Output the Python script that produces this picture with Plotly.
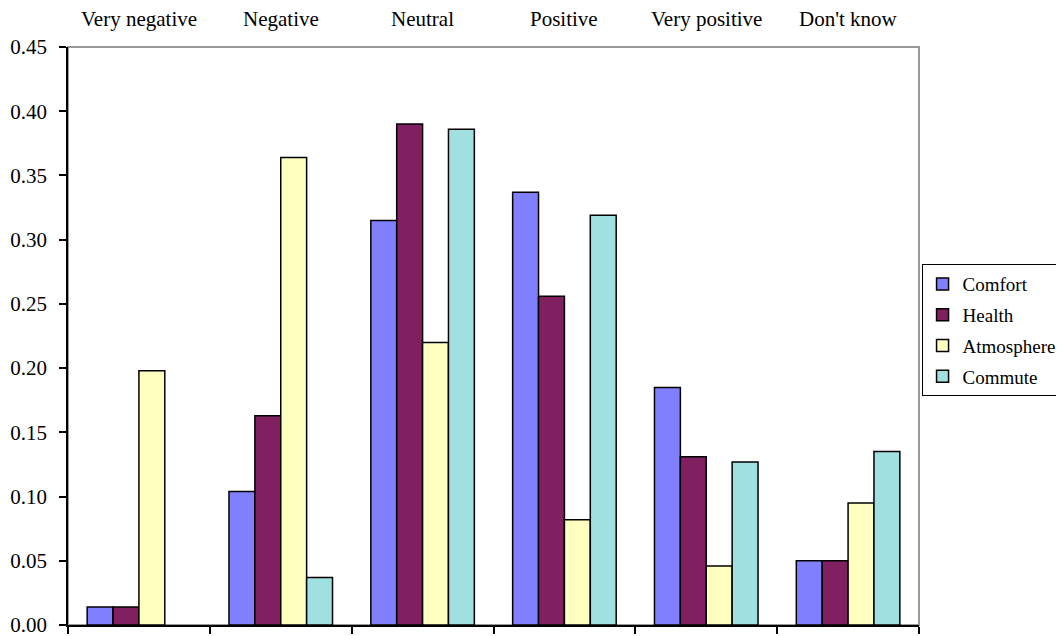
import plotly.graph_objects as go

categories = ["Very negative", "Negative", "Neutral", "Positive", "Very positive", "Don't know"]
comfort = [0.014, 0.104, 0.315, 0.337, 0.185, 0.050]
health = [0.014, 0.163, 0.390, 0.256, 0.131, 0.050]
atmosphere = [0.198, 0.364, 0.220, 0.082, 0.046, 0.095]
commute = [None, 0.037, 0.386, 0.319, 0.127, 0.135]
y_ticks = [0.00, 0.05, 0.10, 0.15, 0.20, 0.25, 0.30, 0.35, 0.40, 0.45]

series = [
    ("Comfort", comfort, "#8080FF"),
    ("Health", health, "#802060"),
    ("Atmosphere", atmosphere, "#FFFFC0"),
    ("Commute", commute, "#A0E0E0"),
]

FONT = "Liberation Serif, Times New Roman, serif"

fig = go.Figure()
for name, vals, color in series:
    fig.add_trace(go.Bar(
        name=name, x=categories, y=vals, legendgroup=name,
        marker=dict(color=color, line=dict(color="black", width=1.5)),
    ))

# page body has an 8px margin, so the figure is a bit smaller than the window
fig.update_layout(
    width=1056, height=628,
    margin=dict(l=60, r=145, t=39, b=11, autoexpand=False),
    paper_bgcolor="white", plot_bgcolor="white",
    barmode="group", bargap=0.27, bargroupgap=0,
    font=dict(family=FONT, size=21, color="black"),
    showlegend=True,
    legend=dict(
        x=1.003, y=0.51, xanchor="left", yanchor="middle",
        bordercolor="black", borderwidth=1, bgcolor="white",
        font=dict(family=FONT, size=19, color="black"),
        tracegroupgap=3, itemwidth=30,
    ),
    shapes=[dict(type="rect", xref="paper", yref="paper", x0=0, y0=0, x1=1, y1=1,
                 line=dict(color="#999999", width=2), layer="below")],
)

fig.update_xaxes(
    automargin=False,
    showline=True, linecolor="black", linewidth=1.5,
    tickson="boundaries", ticks="outside", ticklen=7, tickcolor="black", tickwidth=1.5,
    showticklabels=False, showgrid=False, zeroline=False,
)
fig.update_yaxes(
    automargin=False,
    range=[0, 0.45], tickvals=y_ticks, tickformat=".2f",
    showline=True, linecolor="black", linewidth=1.5,
    ticks="outside", ticklen=7, tickcolor="black", tickwidth=1.5,
    ticklabelstandoff=8, ticklabeloverflow="allow",
    showgrid=False, zeroline=False,
    tickfont=dict(family=FONT, size=21, color="black"),
)

for c in categories:
    fig.add_annotation(x=c, y=1, xref="x", yref="paper", text=c, showarrow=False,
                       yanchor="bottom", yshift=14,
                       font=dict(family=FONT, size=21, color="black"))

fig.write_html("out.html")
